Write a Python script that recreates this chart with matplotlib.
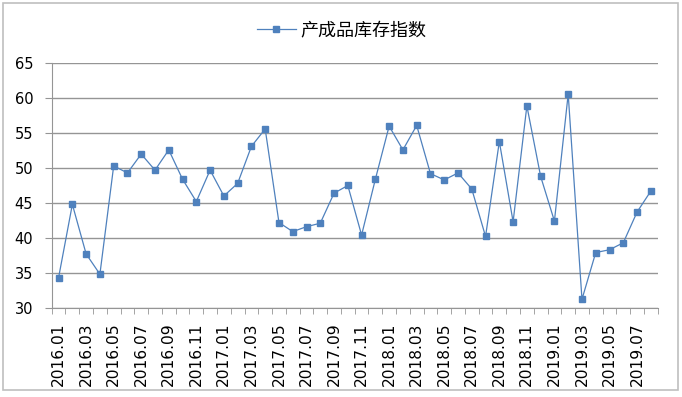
import matplotlib
matplotlib.use("Agg")
from matplotlib import pyplot as plt
from matplotlib.patches import Rectangle
import numpy as np

plt.rcParams['font.family'] = ['Noto Sans CJK SC', 'DejaVu Sans']

# 月份：2016.01 - 2019.08
months = [f"{y}.{m:02d}" for y in range(2016, 2020) for m in range(1, 13)][:44]

# 产成品库存指数
values = [34.3, 44.8, 37.7, 34.8, 50.3, 49.3, 52.0, 49.7, 52.6, 48.4,
          45.2, 49.7, 46.0, 47.8, 53.1, 55.6, 42.2, 40.9, 41.6, 42.1,
          46.4, 47.5, 40.4, 48.4, 56.0, 52.6, 56.1, 49.2, 48.3, 49.3,
          47.0, 40.2, 53.8, 42.3, 58.9, 48.8, 42.4, 60.6, 31.2, 37.9,
          38.3, 39.3, 43.7, 46.7]

series_name = "产成品库存指数"
y_ticks = [30, 35, 40, 45, 50, 55, 60, 65]

blue = "#4F81BD"
grid_gray = "#959595"

fig = plt.figure(figsize=(6.82, 3.97), dpi=100)
ax = fig.add_axes([0.0758, 0.2249, 0.8886, 0.6157])

x = np.arange(len(values))
ax.plot(x, values, color=blue, lw=0.9, marker="s", markersize=4.6,
        markerfacecolor=blue, markeredgecolor=blue, label=series_name)

ax.set_xlim(-0.5, len(values) - 0.5)
ax.set_ylim(30, 65)
ax.set_yticks(y_ticks)
ax.set_yticklabels([str(v) for v in y_ticks], family='DejaVu Sans', fontsize=10.5)
ax.yaxis.grid(True, color=grid_gray, lw=1.0)
ax.set_axisbelow(True)

# 类别标签每隔一个显示，刻度线在类别边界
ax.set_xticks(x[::2])
ax.set_xticklabels(months[::2], rotation=90, family='DejaVu Sans', fontsize=11.2)
ax.tick_params(axis='x', length=0, pad=10.5)
ax.set_xticks(np.arange(-0.5, len(values), 1.0), minor=True)
ax.tick_params(axis='x', which='minor', length=4, color=grid_gray, direction='out')
ax.tick_params(axis='y', length=4.8, color=grid_gray, pad=8.5)

for s in ['top', 'right']:
    ax.spines[s].set_visible(False)
for s in ['left', 'bottom']:
    ax.spines[s].set_color(grid_gray)

leg = fig.legend(loc='center', bbox_to_anchor=(0.501, 0.924), frameon=False,
                 fontsize=13, handlelength=2.2, handletextpad=0.25)

# 图表外框
fig.patches.append(Rectangle((3 / 682, 7 / 397), 675 / 682, 387 / 397,
                             transform=fig.transFigure, fill=False,
                             edgecolor="#BFBFBF", lw=1.2))

fig.savefig("out.png", dpi=100)
